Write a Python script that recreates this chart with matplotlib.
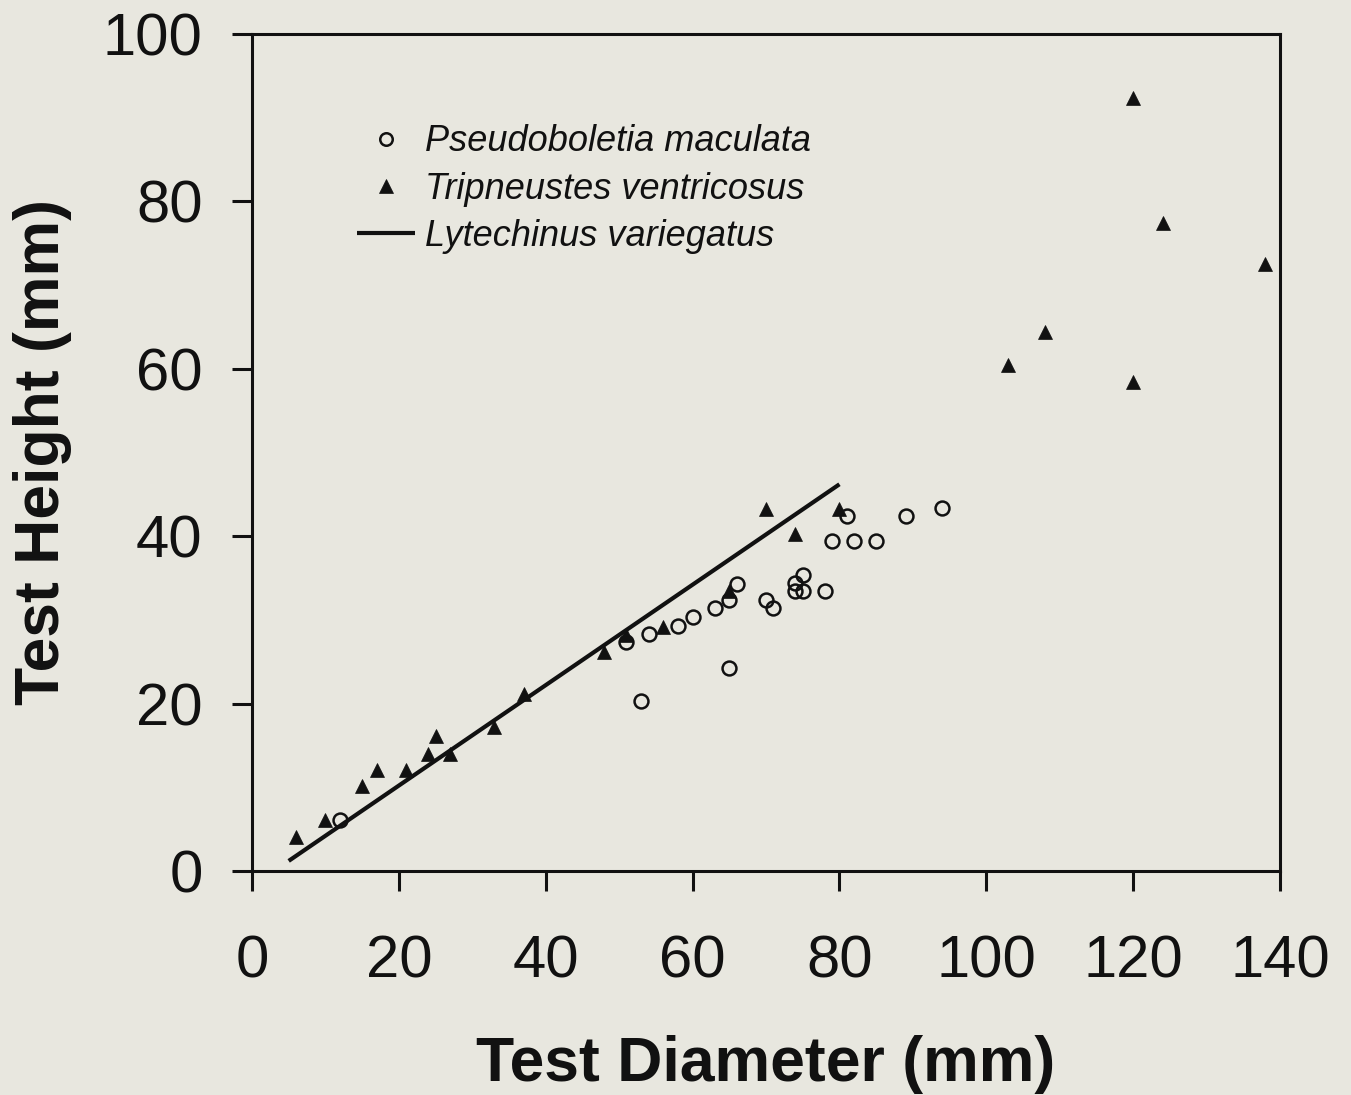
import matplotlib.pyplot as plt

plt.rcParams['font.family'] = ['Liberation Sans', 'DejaVu Sans']

# Pseudoboletia maculata (open circles)
pm_diam = [12, 51, 53, 54, 58, 60, 63, 65, 66, 65, 70, 71, 74, 75, 74, 75, 78, 79, 81, 82, 85, 89, 94]
pm_height = [6.1, 27.3, 20.3, 28.3, 29.3, 30.3, 31.4, 32.4, 34.3, 24.3, 32.4, 31.4, 34.4, 35.4,
             33.4, 33.4, 33.4, 39.4, 42.4, 39.4, 39.4, 42.4, 43.4]

# Tripneustes ventricosus (filled triangles)
tv_diam = [6, 10, 15, 17, 21, 24, 25, 27, 33, 37, 48, 51, 56, 65, 70, 74, 80,
           103, 108, 120, 124, 120, 138]
tv_height = [4.1, 6.1, 10.1, 12.1, 12.1, 14.0, 16.1, 14.0, 17.2, 21.1, 26.2, 28.2, 29.2, 33.4,
             43.2, 40.3, 43.2, 60.5, 64.4, 92.3, 77.4, 58.4, 72.5]

# Lytechinus variegatus (regression line end points)
lv_diam = [5, 80]
lv_height = [1.2, 46.2]

bg = '#e8e7df'
ink = '#111111'

fig = plt.figure(figsize=(13.51, 10.95), dpi=100, facecolor=bg)
ax = fig.add_axes([0.1865, 0.2046, 0.761, 0.7644], facecolor=bg)

ax.plot(pm_diam, pm_height, linestyle='none', marker='o', ms=10, mfc='none',
        mec=ink, mew=1.8, label='Pseudoboletia maculata')
ax.plot(tv_diam, tv_height, linestyle='none', marker='^', ms=10.5, mfc=ink,
        mec=ink, mew=0.5, label='Tripneustes ventricosus')
ax.plot(lv_diam, lv_height, color=ink, lw=3, solid_capstyle='butt',
        label='Lytechinus variegatus')

ax.set_xlim(0, 140)
ax.set_ylim(0, 100)
ax.set_xticks(range(0, 141, 20))
ax.set_yticks(range(0, 101, 20))

for s in ax.spines.values():
    s.set_linewidth(2.2)
    s.set_color(ink)

ax.tick_params(axis='both', direction='out', length=14.5, width=2.2, color=ink,
               labelsize=43, labelcolor=ink)
ax.tick_params(axis='x', pad=31)
ax.tick_params(axis='y', pad=21)

ax.set_xlabel('Test Diameter (mm)', fontsize=45, fontweight='bold', color=ink, labelpad=33)
ax.set_ylabel('Test Height (mm)', fontsize=45, fontweight='bold', color=ink, labelpad=22)

leg = ax.legend(loc='upper left', bbox_to_anchor=(0.102, 0.892), frameon=False,
                prop={'style': 'italic', 'size': 26}, handlelength=1.6,
                handletextpad=0.3, labelspacing=0.34, borderpad=0, borderaxespad=0,
                markerscale=0.9)
for t in leg.get_texts():
    t.set_color(ink)

fig.savefig('out.png', dpi=100, facecolor=bg)
